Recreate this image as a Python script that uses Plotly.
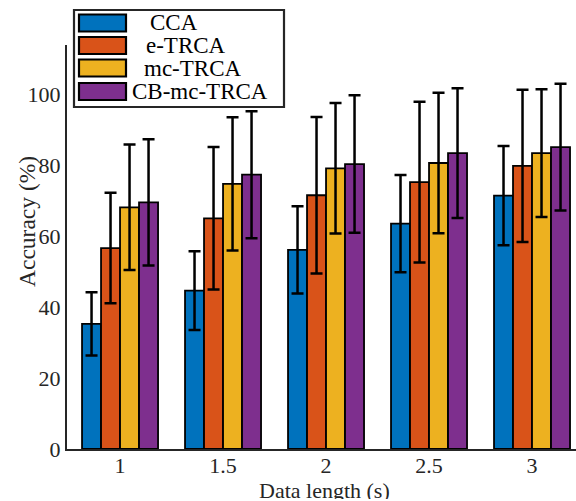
import plotly.graph_objects as go

# ---- data ----
data_length = ["1", "1.5", "2", "2.5", "3"]
methods = ["CCA", "e-TRCA", "mc-TRCA", "CB-mc-TRCA"]
colors = ["#0072BD", "#D95319", "#EDB120", "#7E2F8E"]

cca_mean = [35.3, 44.7, 56.2, 63.6, 71.5]
cca_sd = [8.9, 11.1, 12.3, 13.7, 14.0]
etrca_mean = [56.7, 65.1, 71.6, 75.3, 79.9]
etrca_sd = [15.6, 20.1, 22.1, 22.7, 21.5]
mctrca_mean = [68.2, 74.8, 79.2, 80.7, 83.5]
mctrca_sd = [17.7, 18.8, 18.4, 19.8, 18.0]
cbmc_mean = [69.6, 77.4, 80.4, 83.5, 85.2]
cbmc_sd = [17.8, 17.9, 19.4, 18.3, 17.9]

y_ticks = [0, 20, 40, 60, 80, 100]

means = [cca_mean, etrca_mean, mctrca_mean, cbmc_mean]
sds = [cca_sd, etrca_sd, mctrca_sd, cbmc_sd]

W, H = 576, 501
L, R, T, B = 67, 0, 45, 52
PW, PH = W - L - R, H - T - B
FONT = "Liberation Serif"
TXT = "#262626"


def px(x):
    return (x - L) / PW


def py(y):
    return (H - B - y) / PH


fig = go.Figure()
for name, m, s, c in zip(methods, means, sds, colors):
    fig.add_trace(go.Bar(
        x=data_length, y=m, name=name,
        marker=dict(color=c, line=dict(color="black", width=1.8)),
        error_y=dict(type="data", array=s, visible=True, color="black",
                     thickness=2.5, width=6),
        showlegend=False,
    ))

# manual legend (wide swatches like the reference)
shapes = [dict(type="rect", xref="paper", yref="paper",
               x0=px(74), x1=px(284), y0=py(107), y1=py(10),
               line=dict(color="#262626", width=2.2), fillcolor="white", layer="above")]
annotations = []
row_y = [23, 45.5, 68, 91.5]
text_x = [149, 145, 143, 131]
for i, (name, c) in enumerate(zip(methods, colors)):
    cy = row_y[i]
    shapes.append(dict(type="rect", xref="paper", yref="paper",
                       x0=px(79), x1=px(126), y0=py(cy + 8.5), y1=py(cy - 8.5),
                       line=dict(color="black", width=2.2), fillcolor=c, layer="above"))
    annotations.append(dict(xref="paper", yref="paper", x=px(text_x[i]), y=py(cy),
                            xanchor="left", yanchor="middle", text=name, showarrow=False,
                            height=21, borderpad=0,
                            font=dict(family=FONT, size=23, color="black")))

annotations.append(dict(xref="paper", yref="paper", x=px(27), y=py(222),
                        text="Accuracy (%)", textangle=-90, showarrow=False,
                        xanchor="center", yanchor="middle",
                        font=dict(family=FONT, size=23.5, color=TXT)))
annotations.append(dict(xref="paper", yref="paper", x=px(324), y=py(490),
                        text="Data length (s)", showarrow=False,
                        xanchor="center", yanchor="middle", height=18, borderpad=0,
                        font=dict(family=FONT, size=22, color=TXT)))

fig.update_layout(
    width=W, height=H,
    margin=dict(l=L, r=R, t=T, b=B),
    paper_bgcolor="white", plot_bgcolor="white",
    barmode="group", bargap=0.262, bargroupgap=0,
    font=dict(family=FONT, size=22, color=TXT),
    shapes=shapes, annotations=annotations,
    xaxis=dict(range=[-0.515, 4.427], showline=True, linecolor="#262626", linewidth=2,
               ticks="", showgrid=False, zeroline=False, automargin=False,
               ticklabelstandoff=-4, tickfont=dict(family=FONT, size=22, color=TXT)),
    yaxis=dict(range=[0, 114], showline=True, linecolor="#262626", linewidth=2,
               tickvals=y_ticks, ticks="", showgrid=False, zeroline=False, automargin=False,
               ticklabelstandoff=0, tickfont=dict(family=FONT, size=22, color=TXT)),
)

fig.write_html("out.html", config={"displayModeBar": False},
               post_script="document.body.style.margin='0';document.body.style.overflow='hidden';")
